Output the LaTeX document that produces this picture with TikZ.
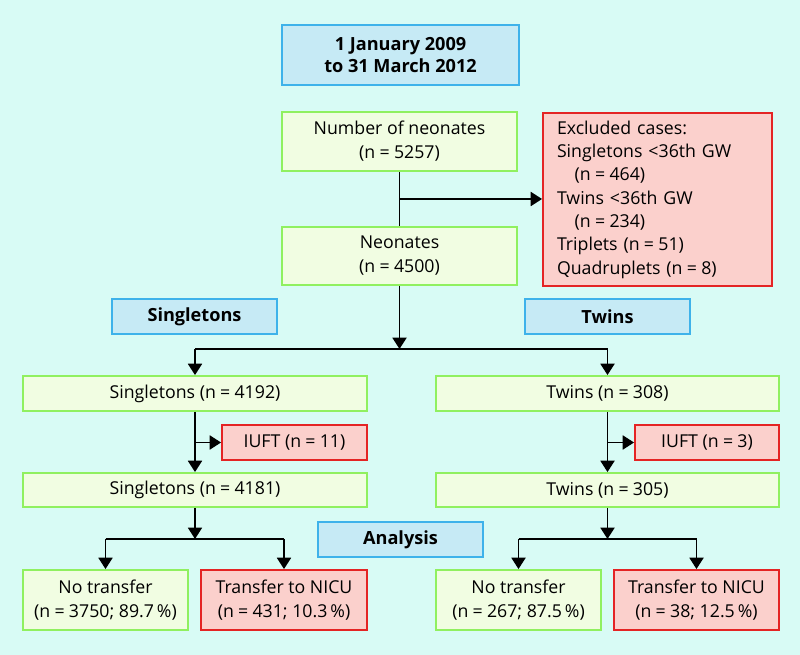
\documentclass[tikz,border=0pt]{standalone}
\usepackage{fontspec}
\setmainfont{Open Sans}
\usetikzlibrary{arrows.meta}
\definecolor{bgc}{HTML}{D8FBF5}
\definecolor{gfill}{HTML}{F1FDE2}
\definecolor{gdraw}{HTML}{90F060}
\definecolor{rfill}{HTML}{FBD0CC}
\definecolor{rdraw}{HTML}{E42424}
\definecolor{bfill}{HTML}{C6EAF5}
\definecolor{bdraw}{HTML}{3EB2EA}
\newcommand\eqs{\hspace{0.24em}=\hspace{0.24em}}
\newcommand\placebox[7]{\node[#6, minimum width={(#4-#2)*0.75pt}, minimum height={(#5-#3)*0.75pt}] (#1) at ({(#2+#4)/2},{(#3+#5)/2}) {#7};}
\begin{document}
\begin{tikzpicture}[x=0.75pt,y=-0.75pt,
  font=\fontsize{13.3}{18}\selectfont,
  boxbase/.style={draw, line width=1.4pt, inner sep=0pt, align=center},
  gbox/.style={boxbase, draw=gdraw, fill=gfill},
  rbox/.style={boxbase, draw=rdraw, fill=rfill},
  bbox/.style={boxbase, draw=bdraw, fill=bfill, font=\fontsize{13.6}{16.5}\selectfont\bfseries},
  conn/.style={line width=1.4pt, draw=black},
  arr/.style={conn, -{Triangle[width=10.5pt,length=8.5pt]}}]
\fill[bgc] (0,0) rectangle (800,655);
\useasboundingbox (0,0) rectangle (800,655);

\placebox{date}{282}{25}{519}{85}{bbox}{1 January 2009\\to 31 March 2012}
\placebox{n1}{282}{112}{517}{171}{gbox}{Number of neonates\\(n\eqs 5257)}
\placebox{n2}{282}{227}{517}{285}{gbox}{Neonates\\(n\eqs 4500)}
\node[rbox, align=left, text width=150.75pt, inner xsep=10.5pt, minimum height={173*0.75pt}, font=\fontsize{13.3}{17.5}\selectfont] (ex) at ({(543+772)/2},{(112+285)/2+1}) {Excluded cases:\\Singletons <36th GW\\\hspace*{1.0em}(n\eqs 464)\\Twins <36th GW\\\hspace*{1.0em}(n\eqs 234)\\Triplets (n\eqs 51)\\Quadruplets (n\eqs 8)};

\placebox{lsing}{112}{299}{277}{334}{bbox}{Singletons}
\placebox{ltwin}{525}{299}{690}{334}{bbox}{Twins}
\placebox{lana}{318}{522}{483}{557}{bbox}{Analysis}

\placebox{s1}{23}{376}{367}{411}{gbox}{Singletons (n\eqs 4192)}
\placebox{iu1}{222}{425}{367}{460}{rbox}{IUFT (n\eqs 11)}
\placebox{s2}{23}{473}{367}{507}{gbox}{Singletons (n\eqs 4181)}
\placebox{snt}{23}{570}{188}{630}{gbox}{No transfer\\(n\eqs 3750; 89.7\,\%)}
\placebox{st}{201}{570}{367}{630}{rbox}{Transfer to NICU\\(n\eqs 431; 10.3\,\%)}

\placebox{t1}{436}{376}{779}{411}{gbox}{Twins (n\eqs 308)}
\placebox{iu2}{635}{425}{779}{460}{rbox}{IUFT (n\eqs 3)}
\placebox{t2}{436}{473}{779}{507}{gbox}{Twins (n\eqs 305)}
\placebox{tnt}{436}{570}{601}{630}{gbox}{No transfer\\(n\eqs 267; 87.5\,\%)}
\placebox{tt}{614}{570}{779}{630}{rbox}{Transfer to NICU\\(n\eqs 38; 12.5\,\%)}

% connectors
\coordinate (yex) at (0,199);
\coordinate (ysplit) at (0,349);
\coordinate (yana) at (0,539);
\draw[conn] (n1.south) -- (n2.north);
\coordinate (exj) at (n1.south |- yex);
\draw[arr] (exj) -- (exj -| ex.west);
\coordinate (j1) at (n2.south |- ysplit);
\draw[arr] (n2.south) -- (j1);
\draw[conn] (s1.north |- ysplit) -- (t1.north |- ysplit);
\draw[arr] (s1.north |- ysplit) -- (s1.north);
\draw[arr] (t1.north |- ysplit) -- (t1.north);

\draw[arr] (s1.south) -- (s2.north);
\draw[arr] (s1.south |- iu1.west) -- (iu1.west);
\draw[arr] (t1.south) -- (t2.north);
\draw[arr] (t1.south |- iu2.west) -- (iu2.west);

\coordinate (j2) at (s2.south |- yana);
\draw[arr] (s2.south) -- (j2);
\draw[conn] (snt.north |- yana) -- (st.north |- yana);
\draw[arr] (snt.north |- yana) -- (snt.north);
\draw[arr] (st.north |- yana) -- (st.north);

\coordinate (j3) at (t2.south |- yana);
\draw[arr] (t2.south) -- (j3);
\draw[conn] (tnt.north |- yana) -- (tt.north |- yana);
\draw[arr] (tnt.north |- yana) -- (tnt.north);
\draw[arr] (tt.north |- yana) -- (tt.north);
\end{tikzpicture}
\end{document}
